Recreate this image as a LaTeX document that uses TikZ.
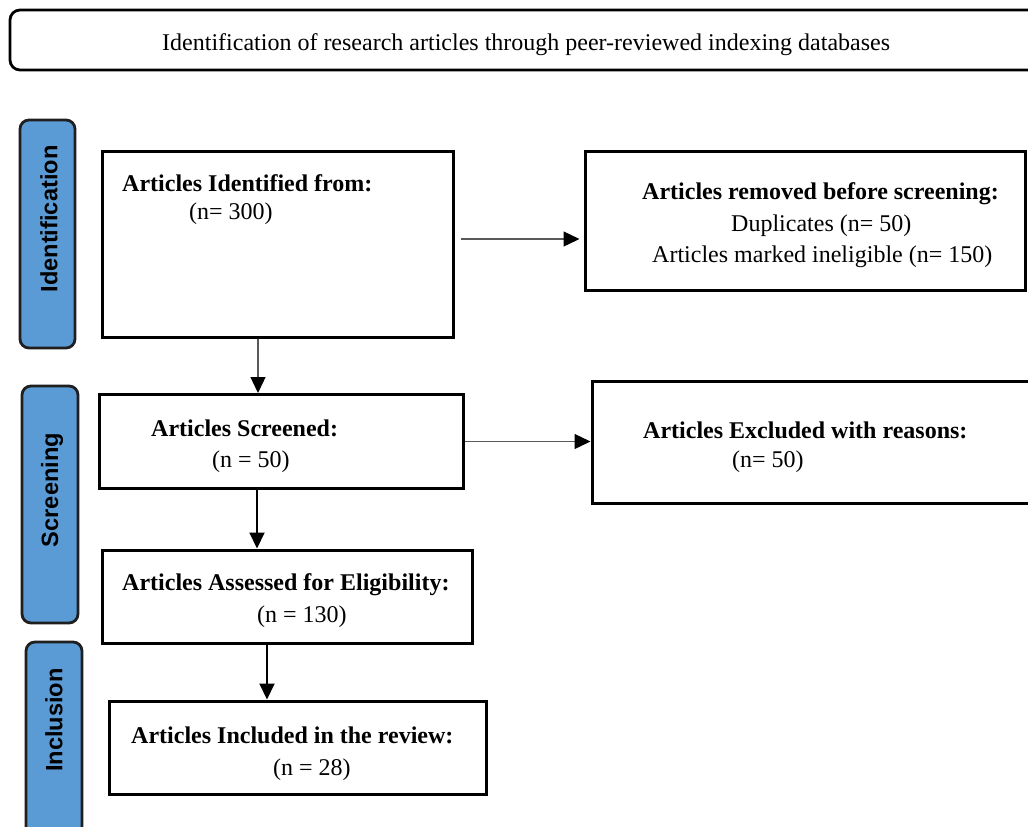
\documentclass[tikz,border=0pt]{standalone}
\usepackage{fontspec}
\setmainfont{Liberation Serif}
\newfontfamily\bandfont{Liberation Sans}
\usetikzlibrary{arrows.meta}
\definecolor{bandblue}{HTML}{5B9BD5}
\definecolor{bandedge}{HTML}{1F1F1F}
\definecolor{thinline}{HTML}{595959}
\tikzset{
  flowbox/.style={draw=black, line width=3pt, fill=white, inner sep=0pt},
  bandbox/.style={draw=bandedge, line width=2.8pt, fill=bandblue, rounded corners=9pt, inner sep=0pt},
  bandtext/.style={rotate=90, inner sep=0pt, font=\bandfont\bfseries\fontsize{23.6}{28}\selectfont},
  headtext/.style={anchor=base west, inner sep=0pt, font=\bfseries\fontsize{24}{28}\selectfont},
  bodytext/.style={anchor=base west, inner sep=0pt, font=\fontsize{24}{28}\selectfont},
  garrow/.style={draw=thinline, line width=1.3pt, -{Triangle[length=16pt,width=15pt,color=black]}},
  barrow/.style={draw=black, line width=2pt, -{Triangle[length=16pt,width=15pt,color=black]}}
}
\begin{document}
\begin{tikzpicture}[x=1pt, y=-1pt]
\useasboundingbox (0,0) rectangle (1028,827);
\clip (0,0) rectangle (1028,827);
\fill[white] (0,0) rectangle (1028,827);

% title
\node[draw=black, line width=2.8pt, rounded corners=10pt, minimum width=1035pt, minimum height=60pt, inner sep=0pt] (title) at (527.5,40) {};
\node[bodytext, font=\fontsize{24}{28}\selectfont] (titletext) at (162,50) {Identification of research articles through peer-reviewed indexing databases};

% bands
\node[bandbox, minimum width=55pt, minimum height=228pt] (bandI) at (47.5,234) {};
\node[bandtext] (bandItext) at (49,219) {Identification};
\node[bandbox, minimum width=56pt, minimum height=237pt] (bandS) at (50,504.5) {};
\node[bandtext] (bandStext) at (52,490) {Screening};
\node[bandbox, minimum width=56pt, minimum height=228pt] (bandN) at (54,756) {};
\node[bandtext] (bandNtext) at (54,720) {Inclusion};

% boxes
\node[flowbox, minimum width=351pt, minimum height=186pt] (A1) at (277.5,244) {};
\node[flowbox, minimum width=440pt, minimum height=139pt] (A2) at (805,220.5) {};
\node[flowbox, minimum width=364pt, minimum height=94pt] (B1) at (281,441.5) {};
\node[flowbox, minimum width=468pt, minimum height=122pt] (B2) at (826,442) {};
\node[flowbox, minimum width=370pt, minimum height=93pt] (C1) at (287,596.5) {};
\node[flowbox, minimum width=377pt, minimum height=93pt] (D1) at (297.5,747.5) {};

% texts
\node[headtext] (A1a) at (122,191) {Articles Identified from:};
\node[bodytext] (A1b) at (189,219) {(n= 300)};
\node[headtext] (A2a) at (642,199) {Articles removed before screening:};
\node[bodytext] (A2b) at (731,231) {Duplicates (n= 50)};
\node[bodytext] (A2c) at (652,262) {Articles marked ineligible (n= 150)};
\node[headtext] (B1a) at (151,436) {Articles Screened:};
\node[bodytext] (B1b) at (212,467) {(n = 50)};
\node[headtext] (B2a) at (643,438) {Articles Excluded with reasons:};
\node[bodytext] (B2b) at (732,467) {(n= 50)};
\node[headtext] (C1a) at (122,590) {Articles Assessed for Eligibility:};
\node[bodytext] (C1b) at (257,622) {(n = 130)};
\node[headtext] (D1a) at (131,743) {Articles Included in the review:};
\node[bodytext] (D1b) at (273,775) {(n = 28)};

% connectors
\draw[garrow, shorten <=6pt, shorten >=4pt] ([yshift=5pt]A1.east) -- ([yshift=5pt]A1.east -| A2.west);
\draw[garrow] ([xshift=-19.5pt]A1.south) -- ([xshift=-19.5pt]A1.south |- B1.north);
\draw[garrow] (B1.east) -- (B1.east -| B2.west);
\draw[barrow] ([xshift=-24pt]B1.south) -- ([xshift=-24pt]B1.south |- C1.north);
\draw[barrow] ([xshift=-20pt]C1.south) -- ([xshift=-20pt]C1.south |- D1.north);
\end{tikzpicture}
\end{document}
